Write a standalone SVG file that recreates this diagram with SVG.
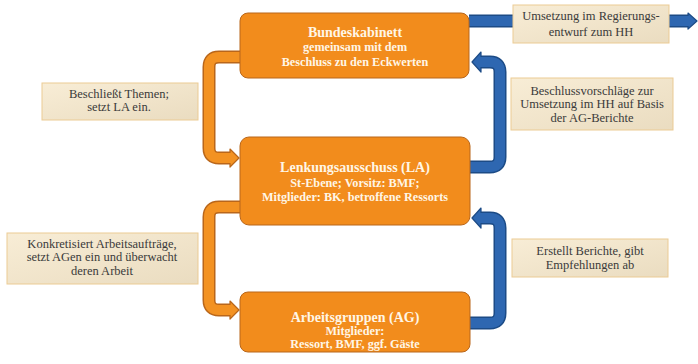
<svg xmlns="http://www.w3.org/2000/svg" width="698" height="364" viewBox="0 0 698 364">
  <defs>
    <linearGradient id="beige" x1="0" y1="0" x2="1" y2="1">
      <stop offset="0" stop-color="#F8EDD6"/>
      <stop offset="1" stop-color="#EADCC0"/>
    </linearGradient>
    <style>
      .node { fill: #F28C1C; stroke: #B9661A; stroke-width: 1; }
      .ntitle { font-family: 'Liberation Serif', 'DejaVu Serif', serif; font-weight: bold; font-size: 14px; fill: #FFF6E6; text-anchor: middle; }
      .nsub { font-family: 'Liberation Serif', 'DejaVu Serif', serif; font-weight: bold; font-size: 12.2px; fill: #FFF6E6; text-anchor: middle; }
      .label { fill: url(#beige); stroke: #EBCB94; stroke-width: 1; }
      .ltext { font-family: 'Liberation Serif', 'DejaVu Serif', serif; font-size: 12.5px; fill: #3A3A3A; text-anchor: middle; }
      .oOut { fill: none; stroke: #B9661A; stroke-width: 13; stroke-linejoin: round; }
      .oIn { fill: none; stroke: #F39222; stroke-width: 10; stroke-linejoin: round; }
      .oHead { fill: #F39222; stroke: #B9661A; stroke-width: 1.2; stroke-linejoin: round; }
      .bOut { fill: none; stroke: #1C4B86; stroke-width: 13; stroke-linejoin: round; }
      .bIn { fill: none; stroke: #2E67B1; stroke-width: 10; stroke-linejoin: round; }
      .bHead { fill: #2E67B1; stroke: #1C4B86; stroke-width: 1.2; stroke-linejoin: round; }
    </style>
  </defs>
  <rect width="698" height="364" fill="#FFFFFF"/>

  <g id="connectors">
    <g id="c-top">
      <path class="bOut" d="M 469 21 H 689"/>
      <polygon class="bHead" points="688,13 697,21 688,29"/>
      <path class="bIn" d="M 469 21 H 689"/>
    </g>
    <g id="c-bk-la">
      <path class="oOut" d="M 241 57 H 219 Q 209 57 209 67 V 148 Q 209 158 219 158 H 231"/>
      <polygon class="oHead" points="230,149 239,158 230,167"/>
      <path class="oIn" d="M 241 57 H 219 Q 209 57 209 67 V 148 Q 209 158 219 158 H 231"/>
    </g>
    <g id="c-la-ag">
      <path class="oOut" d="M 241 207 H 219 Q 209 207 209 217 V 300 Q 209 310 219 310 H 231"/>
      <polygon class="oHead" points="230,301 239,310 230,319"/>
      <path class="oIn" d="M 241 207 H 219 Q 209 207 209 217 V 300 Q 209 310 219 310 H 231"/>
    </g>
    <g id="c-la-bk">
      <path class="bOut" d="M 469 167 H 490 Q 500 167 500 157 V 72 Q 500 62 490 62 H 480"/>
      <polygon class="bHead" points="481,52 472,62 481,72"/>
      <path class="bIn" d="M 469 167 H 490 Q 500 167 500 157 V 72 Q 500 62 490 62 H 480"/>
    </g>
    <g id="c-ag-la">
      <path class="bOut" d="M 469 323 H 490 Q 500 323 500 313 V 228 Q 500 218 490 218 H 480"/>
      <polygon class="bHead" points="481,208 472,218 481,228"/>
      <path class="bIn" d="M 469 323 H 490 Q 500 323 500 313 V 228 Q 500 218 490 218 H 480"/>
    </g>
  </g>

  <g id="node-bk">
    <rect class="node" x="240" y="13" width="229" height="65" rx="8"/>
    <text class="ntitle" x="355" y="37">Bundeskabinett</text>
    <text class="nsub" x="355" y="51">gemeinsam mit dem</text>
    <text class="nsub" x="355" y="66">Beschluss zu den Eckwerten</text>
  </g>

  <g id="node-la">
    <rect class="node" x="240" y="137" width="230" height="88" rx="9"/>
    <text class="ntitle" x="355" y="172">Lenkungsausschuss (LA)</text>
    <text class="nsub" x="355" y="187">St-Ebene; Vorsitz: BMF;</text>
    <text class="nsub" x="355" y="201">Mitglieder: BK, betroffene Ressorts</text>
  </g>

  <g id="node-ag">
    <rect class="node" x="240" y="292" width="230" height="60" rx="8"/>
    <text class="ntitle" x="355" y="322">Arbeitsgruppen (AG)</text>
    <text class="nsub" x="355" y="335">Mitglieder:</text>
    <text class="nsub" x="355" y="348">Ressort, BMF, ggf. Gäste</text>
  </g>

  <g id="label-hh">
    <rect class="label" x="513" y="5" width="156" height="38"/>
    <text class="ltext" x="591" y="20">Umsetzung im Regierungs-</text>
    <text class="ltext" x="591" y="36">entwurf zum HH</text>
  </g>

  <g id="label-themen">
    <rect class="label" x="42" y="83" width="156" height="37"/>
    <text class="ltext" x="119" y="98">Beschließt Themen;</text>
    <text class="ltext" x="119" y="111">setzt LA ein.</text>
  </g>

  <g id="label-vorschlaege">
    <rect class="label" x="511" y="78" width="162" height="52"/>
    <text class="ltext" x="592" y="95">Beschlussvorschläge zur</text>
    <text class="ltext" x="592" y="108">Umsetzung im HH auf Basis</text>
    <text class="ltext" x="592" y="122">der AG-Berichte</text>
  </g>

  <g id="label-konkret">
    <rect class="label" x="7" y="233" width="191" height="51"/>
    <text class="ltext" x="102" y="248">Konkretisiert Arbeitsaufträge,</text>
    <text class="ltext" x="102" y="261">setzt AGen ein und überwacht</text>
    <text class="ltext" x="102" y="275">deren Arbeit</text>
  </g>

  <g id="label-berichte">
    <rect class="label" x="512" y="239" width="156" height="38"/>
    <text class="ltext" x="590" y="255">Erstellt Berichte, gibt</text>
    <text class="ltext" x="590" y="269">Empfehlungen ab</text>
  </g>
</svg>
